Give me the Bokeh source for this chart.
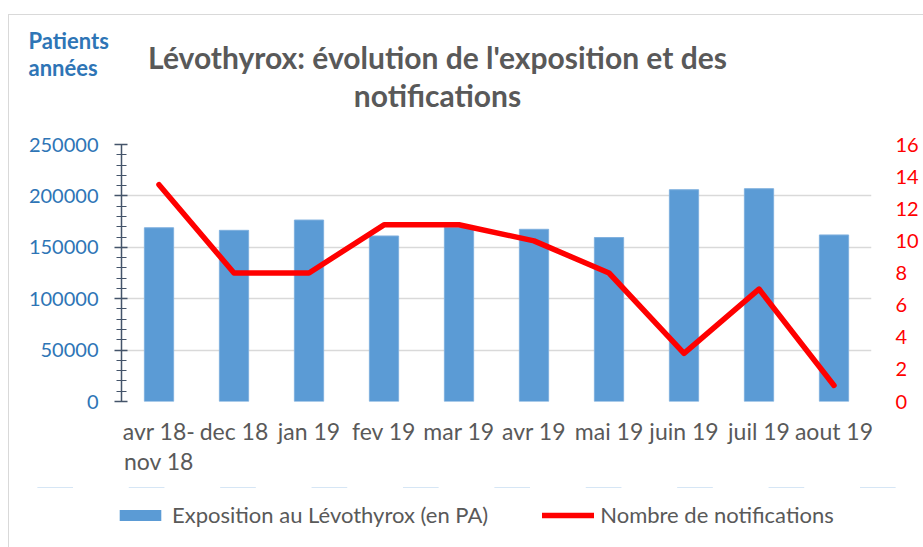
from bokeh.plotting import figure
from bokeh.layouts import column
from bokeh.models import (Range1d, LinearAxis, SingleIntervalTicker, Legend, LegendItem,
                          ColumnDataSource, BasicTickFormatter)
from bokeh.core.properties import value
from bokeh.embed import file_html
from bokeh.resources import INLINE

categories = ["avr 18-\nnov 18", "dec 18", "jan 19", "fev 19", "mar 19", "avr 19",
              "mai 19", "juin 19", "juil 19", "aout 19"]
exposition = [169000, 166500, 176500, 161000, 169500, 167500, 159500, 206000, 207000, 162000]
notifications = [13.5, 8, 8, 11, 11, 10, 8, 3, 7, 1]

title_lines = ["Lévothyrox: évolution de l'exposition et des", "notifications"]
unit_lines = ["Patients", "années"]
legend_bar = "Exposition au Lévothyrox (en PA)"
legend_line = "Nombre de notifications"

FONT = "Lato"
GRAY = "#595959"
BLUE = "#2E75B6"
BAR = "#5B9BD5"
RED = "#FF0000"
W = 914
TOP_H = 117
MAIN_H = 355
LEG_H = 60


def strip(h, x_range, y_range):
    f = figure(width=W, height=h, x_range=x_range, y_range=y_range,
               output_backend="svg", toolbar_location=None, x_axis_type=None,
               y_axis_type=None, min_border=0, min_border_left=0, min_border_right=0,
               min_border_top=0, min_border_bottom=0)
    f.outline_line_color = None
    f.grid.grid_line_color = None
    f.frame_align = False
    return f


src = ColumnDataSource(dict(cat=categories, expo=exposition, notif=notifications))

# ---------- header (title + unit label) ----------
top = strip(TOP_H, Range1d(0, W), Range1d(TOP_H, 0))
top.text(x=[428, 428], y=[41, 79], text=title_lines, text_align="center",
         text_baseline="alphabetic", text_font=value(FONT), text_font_style="bold",
         text_font_size="30px", text_color=GRAY)
top.text(x=[19, 19], y=[25, 52], text=unit_lines, text_align="left",
         text_baseline="alphabetic", text_font=value(FONT), text_font_style="bold",
         text_font_size="22px", text_color=BLUE)

# ---------- main chart ----------
p = figure(width=W, height=MAIN_H, x_range=categories, y_range=Range1d(0, 250000),
           output_backend="svg", toolbar_location=None,
           min_border_left=112, min_border_right=52, min_border_top=12, min_border_bottom=86)
p.frame_align = False
p.extra_y_ranges = {"right": Range1d(0, 16)}
p.outline_line_color = None

line_style = dict(line_color=RED, line_width=5.5, line_join="round", line_cap="round")

p.vbar(x="cat", top="expo", source=src, width=0.39, fill_color=BAR,
       line_color="#7FB0DE", line_width=1)
p.line(x="cat", y="notif", source=src, y_range_name="right", **line_style)

ya = p.yaxis[0]
ya.ticker = SingleIntervalTicker(interval=50000, num_minor_ticks=5)
ya.formatter = BasicTickFormatter(use_scientific=False)
ya.axis_line_color = "#44546A"
ya.axis_line_width = 1.5
ya.major_tick_line_color = "#44546A"
ya.major_tick_line_width = 1.5
ya.major_tick_in = 6
ya.major_tick_out = 7
ya.minor_tick_line_color = "#44546A"
ya.minor_tick_in = 5
ya.minor_tick_out = 5
ya.major_label_text_font = FONT
ya.major_label_text_font_size = "20px"
ya.major_label_text_color = BLUE
ya.major_label_standoff = 16

ra = LinearAxis(y_range_name="right", ticker=SingleIntervalTicker(interval=2, num_minor_ticks=0))
ra.axis_line_color = None
ra.major_tick_line_color = None
ra.minor_tick_line_color = None
ra.major_tick_out = 0
ra.major_tick_in = 0
ra.major_label_text_font = FONT
ra.major_label_text_font_size = "20px"
ra.major_label_text_color = RED
ra.major_label_standoff = 24
p.add_layout(ra, "right")

xa = p.xaxis[0]
xa.axis_line_color = None
xa.major_tick_line_color = None
xa.minor_tick_line_color = None
xa.major_tick_out = 0
xa.major_label_text_font = FONT
xa.major_label_text_font_size = "23px"
xa.major_label_text_color = GRAY
xa.major_label_text_line_height = 1.1
xa.major_label_standoff = 15

p.xgrid.grid_line_color = None
p.ygrid.grid_line_color = "#D9D9D9"
p.ygrid.grid_line_width = 1.3

# ---------- legend strip (same series, kept outside its visible range) ----------
leg = strip(LEG_H, p.x_range, Range1d(-600000, -300000))
leg.extra_y_ranges = {"right": Range1d(-40, -20)}
lb = leg.vbar(x="cat", top="expo", bottom="expo", source=src, width=0.39,
              fill_color=BAR, line_color=None)
ll = leg.line(x="cat", y="notif", source=src, y_range_name="right", **line_style)
legend = Legend(items=[LegendItem(label=legend_bar, renderers=[lb]),
                       LegendItem(label=legend_line, renderers=[ll])],
                location=(105, 19), orientation="horizontal", glyph_width=52, glyph_height=14,
                label_standoff=6, spacing=54, padding=0, margin=0,
                border_line_color=None, background_fill_alpha=0,
                label_text_font=FONT, label_text_font_size="22px", label_text_color=GRAY)
leg.add_layout(legend, "center")

layout = column(top, p, leg, spacing=0, margin=(14, 0, 0, 8),
                styles={"border-left": "1px solid #D9D9D9", "border-top": "1px solid #D9D9D9"})
open("out.html", "w").write(file_html(layout, INLINE))
